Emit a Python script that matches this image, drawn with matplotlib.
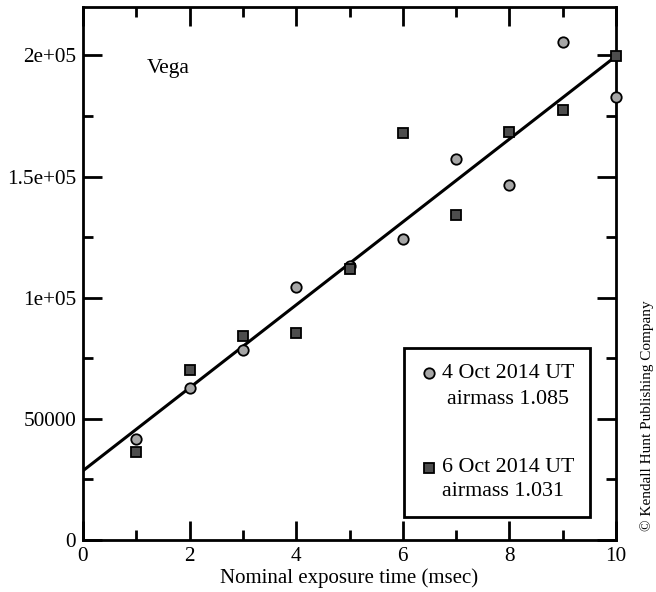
import matplotlib
matplotlib.use("Agg")
import matplotlib.pyplot as plt
from matplotlib.patches import Rectangle
from matplotlib.ticker import MultipleLocator

plt.rcParams['font.family'] = ['Liberation Serif', 'DejaVu Serif']

exposure = [1, 2, 3, 4, 5, 6, 7, 8, 9, 10]
counts_oct4 = [41500, 62600, 78400, 104500, 113100, 124300, 157400, 146700, 205500, 182700]
counts_oct6 = [36300, 70100, 84300, 85600, 112000, 168000, 134200, 168400, 177500, 199700]
fit_intercept = 28600
fit_slope = 17110
label_oct4 = ("4 Oct 2014 UT", "airmass 1.085")
label_oct6 = ("6 Oct 2014 UT", "airmass 1.031")

fig = plt.figure(figsize=(6.56, 5.92), dpi=100)
ax = fig.add_axes([83/656, 52/592, 533/656, 533/592])

fx = [0, 10]
fy = [fit_intercept + fit_slope * v for v in fx]
ax.plot(fx, fy, color='black', lw=2.2, zorder=2)

ax.plot(exposure, counts_oct4, 'o', ms=7.5, mfc='#a6a6a6', mec='black', mew=1.3,
        clip_on=False, zorder=3)
ax.plot(exposure, counts_oct6, 's', ms=7, mfc='#4d4d4d', mec='black', mew=1.3,
        clip_on=False, zorder=3)

ax.set_xlim(0, 10)
ax.set_ylim(0, 220000)
ax.xaxis.set_major_locator(MultipleLocator(2))
ax.xaxis.set_minor_locator(MultipleLocator(1))
ax.yaxis.set_major_locator(MultipleLocator(50000))
ax.yaxis.set_minor_locator(MultipleLocator(25000))
ax.set_yticks([0, 50000, 100000, 150000, 200000])
ax.set_yticklabels(['0', '50000', '1e+05', '1.5e+05', '2e+05'])
ax.tick_params(which='both', direction='in', top=True, right=True, width=2,
               labelsize=15.3, color='black')
ax.tick_params(which='major', length=14, pad=5)
ax.tick_params(which='minor', length=7)
for s in ax.spines.values():
    s.set_linewidth(2)

ax.set_xlabel('Nominal exposure time (msec)', fontsize=15, labelpad=2)

ax.text(1.2, 194600, 'Vega', fontsize=15.5, va='center', ha='left')

# legend box
tr = fig.transFigure
def fxp(px):
    return px / 656
def fyp(py):
    return 1 - py / 592
fig.patches.append(Rectangle((fxp(404), fyp(517)), fxp(590) - fxp(404), fyp(348) - fyp(517),
                             transform=tr, fill=True, facecolor='white', edgecolor='black',
                             lw=2, zorder=5))
fig.add_artist(plt.Line2D([fxp(429)], [fyp(373)], marker='o', ms=7.5, mfc='#a6a6a6',
                          mec='black', mew=1.3, transform=tr, zorder=6))
fig.add_artist(plt.Line2D([fxp(429)], [fyp(468)], marker='s', ms=7, mfc='#4d4d4d',
                          mec='black', mew=1.3, transform=tr, zorder=6))
fs_leg = 15.8
fig.text(fxp(442), fyp(373), label_oct4[0], fontsize=fs_leg, va='center', ha='left', zorder=6)
fig.text(fxp(508), fyp(400), label_oct4[1], fontsize=fs_leg, va='center', ha='center', zorder=6)
fig.text(fxp(442), fyp(467), label_oct6[0], fontsize=fs_leg, va='center', ha='left', zorder=6)
fig.text(fxp(503), fyp(492), label_oct6[1], fontsize=fs_leg, va='center', ha='center', zorder=6)

fig.text(fxp(647), fyp(531), '© Kendall Hunt Publishing Company', fontsize=11,
         rotation=90, ha='center', va='bottom')

fig.savefig('out.png', dpi=100)
